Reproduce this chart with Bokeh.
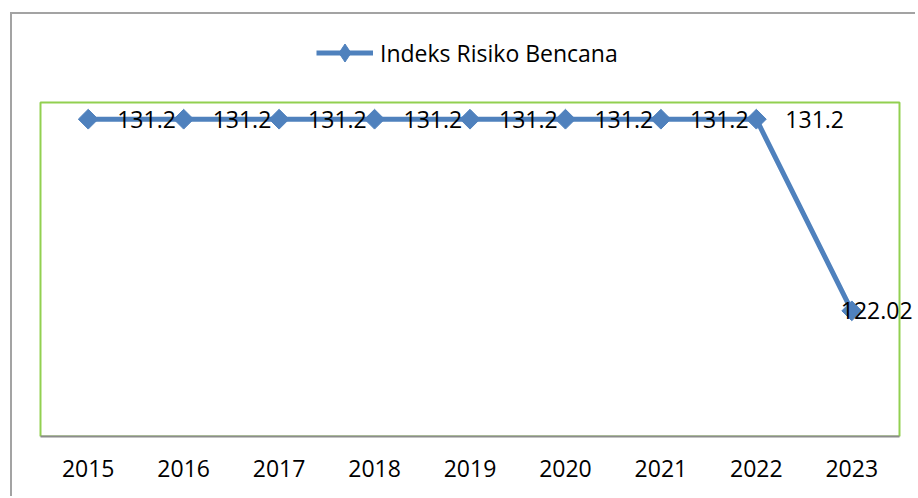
import math
from bokeh.plotting import figure
from bokeh.models import (ColumnDataSource, Legend, LegendItem, Range1d,
                          FixedTicker, BoxAnnotation)
from bokeh.core.properties import value
from bokeh.embed import file_html
from bokeh.resources import INLINE

years = ["2015", "2016", "2017", "2018", "2019", "2020", "2021", "2022", "2023"]
index_values = [131.2, 131.2, 131.2, 131.2, 131.2, 131.2, 131.2, 131.2, 122.02]
value_labels = ["131.2", "131.2", "131.2", "131.2", "131.2", "131.2", "131.2", "131.2", "122.02"]
series_name = "Indeks Risiko Bencana"
y_min, y_max = 116, 132

# style: horizontal offsets of the data labels (px)
label_dx = [29, 29, 29, 29, 29, 29, 29, 29, -11]

BLUE = "#4F81BD"
GREEN = "#92D050"
FONT = "Open Sans"
FS = "23px"

xpos = list(range(len(years)))
src = ColumnDataSource(dict(x=xpos, y=index_values, t=value_labels, dx=label_dx))

# pixel geometry of the plot box (green rectangle)
px_x = 859 / len(years)          # px per category
px_y = 334 / (y_max - y_min)     # px per unit
x_lo, x_hi = -0.5, len(years) - 0.5

p = figure(width=905, height=484,
           x_range=Range1d(x_lo - 3 / px_x, x_hi + 18 / px_x),
           y_range=Range1d(y_min, y_max + 88 / px_y),
           output_backend="svg", toolbar_location=None, y_axis_location=None,
           min_border_left=25, min_border_right=0, min_border_top=0, min_border_bottom=62)
p.styles = {"margin-left": "10px", "margin-top": "12px",
            "border-left": "2px solid #a3a3a3", "border-top": "2px solid #a3a3a3"}

p.xgrid.visible = False
p.ygrid.visible = False
p.outline_line_color = None

box = BoxAnnotation(left=x_lo, right=x_hi, bottom=y_min, top=y_max,
                    fill_alpha=0, line_color=GREEN, line_alpha=1, line_width=2,
                    level="underlay")
p.add_layout(box)

ax = p.xaxis[0]
ax.ticker = FixedTicker(ticks=xpos)
ax.major_label_overrides = {i: y for i, y in zip(xpos, years)}
ax.bounds = (x_lo, x_hi)
ax.axis_line_color = "#8c8c8c"
ax.axis_line_width = 2
ax.major_tick_line_color = None
ax.minor_tick_line_color = None
ax.major_label_text_font = FONT
ax.major_label_text_font_size = FS
ax.major_label_text_color = "black"
ax.major_label_standoff = 17

ln = p.line("x", "y", source=src, line_color=BLUE, line_width=5)
mk = p.scatter("x", "y", source=src, marker="square", angle=math.pi / 4, size=14,
               fill_color=BLUE, line_color=BLUE)

# legend-only marker (no point drawn in the plot)
leg_src = ColumnDataSource(dict(x=[float("nan")], y=[float("nan")]))
leg_mk = p.scatter("x", "y", source=leg_src, marker="diamond", size=18,
                   fill_color=BLUE, line_color=BLUE)

p.text("x", "y", text="t", source=src, x_offset="dx", text_align="left",
       text_baseline="middle", text_font=value(FONT), text_font_size=FS,
       text_color="black")

legend = Legend(items=[LegendItem(label=series_name, renderers=[ln, leg_mk])],
                location=(279, 361), orientation="horizontal",
                border_line_color=None, background_fill_alpha=0,
                padding=0, margin=0, spacing=0,
                glyph_width=57, glyph_height=45, label_height=20, label_standoff=7,
                label_text_font=FONT, label_text_font_size=FS, label_text_color="black")
p.add_layout(legend, "center")

open("out.html", "w").write(file_html(p, INLINE))
